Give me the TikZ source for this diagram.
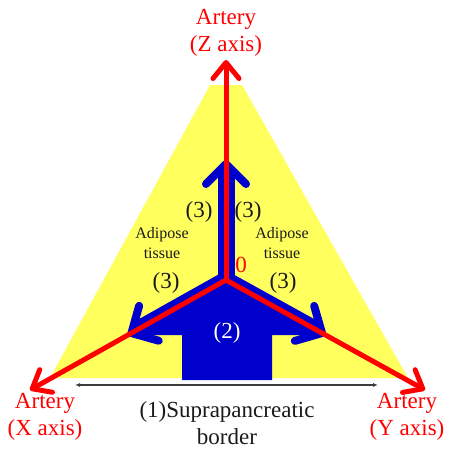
\documentclass[tikz,border=0pt]{standalone}
\usepackage{fontspec}
\setmainfont{Liberation Serif}
\usetikzlibrary{arrows.meta,calc}
\definecolor{arteryRed}{HTML}{FF0000}
\definecolor{fatBlue}{HTML}{0000CC}
\definecolor{fatYellow}{HTML}{FFFF5E}
\definecolor{inkBlack}{HTML}{1A1A1A}
\tikzset{
  artery/.style={-{Straight Barb[length=16pt,width=26pt,line width=5pt,round]}, line width=5pt, arteryRed},
  spread/.style={-{Straight Barb[length=20pt,width=40pt,line width=8pt,round]}, line width=17pt, fatBlue},
  border/.style={{Latex[length=5pt,width=4pt]}-{Latex[length=5pt,width=4pt]}, line width=1.4pt, inkBlack!85},
  lbl/.style={font=\fontsize{23}{27}\selectfont, align=center, inner sep=0pt},
  sm/.style={font=\fontsize{16}{20}\selectfont, align=center, inner sep=0pt},
}
\begin{document}
\begin{tikzpicture}[x=1pt,y=-1pt]
  \useasboundingbox (0,0) rectangle (448,450);
  \coordinate (O) at (226,280);
  \coordinate (zend) at (226,60);
  \coordinate (xend) at (30,390);
  \coordinate (yend) at (425,390);
  \coordinate (ztip) at (226,160);
  \coordinate (xtip) at ($(O)!0.5!(xend)$);
  \coordinate (ytip) at ($(O)!0.5!(yend)$);
  % adipose layer
  \fill[fatYellow] (50,378) -- (210,85) -- (242,85) -- (408,378) -- cycle;
  % pancreas block arrow
  \fill[fatBlue] (O) -- (xtip) -- (182,0 |- xtip) -- (182,380) -- (272,380)
    -- (272,0 |- ytip) -- (ytip) -- cycle;
  \node[lbl, white] (pancreas) at (227,333) {(2)};
  % dissection along the arteries
  \draw[spread] (O) -- (ztip);
  \draw[spread] (O) -- (xtip);
  \draw[spread] (O) -- (ytip);
  \draw[artery] (O) -- (zend);
  \draw[artery] (O) -- (xend);
  \draw[artery] (O) -- (yend);
  \node[lbl, arteryRed] (origin) at (241,265) {0};
  % labels
  \node[lbl, arteryRed] (zlab) at (226,33) {Artery\\(Z axis)};
  \node[lbl, arteryRed] (xlab) at (45,417) {Artery\\(X axis)};
  \node[lbl, arteryRed] (ylab) at (407,417) {Artery\\(Y axis)};
  \node[lbl, inkBlack] (zl3) at (199,212) {(3)};
  \node[lbl, inkBlack] (zr3) at (248,212) {(3)};
  \node[lbl, inkBlack] (xl3) at (166,283) {(3)};
  \node[lbl, inkBlack] (yr3) at (283,283) {(3)};
  \node[sm, inkBlack] (fatl) at (162,243) {Adipose\\tissue};
  \node[sm, inkBlack] (fatr) at (282,243) {Adipose\\tissue};
  \coordinate (bstart) at (75,385);
  \coordinate (bend) at (378,385);
  \draw[border] (bstart) -- (bend);
  \node[lbl, inkBlack] (suprap) at (227,423) {(1)Suprapancreatic\\border};
\end{tikzpicture}
\end{document}
